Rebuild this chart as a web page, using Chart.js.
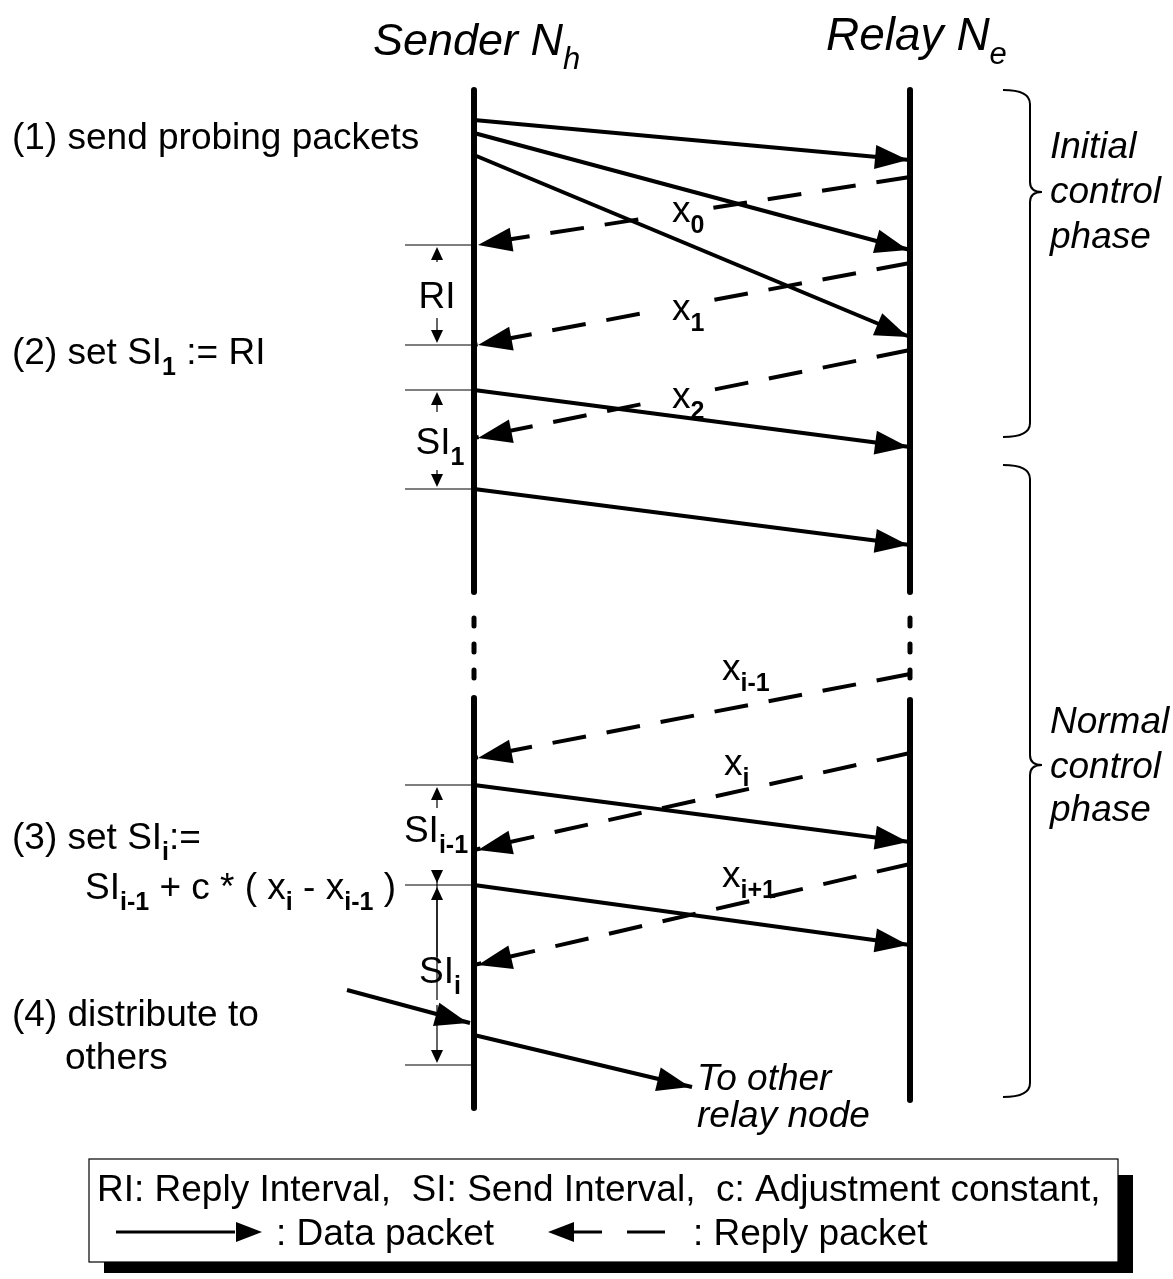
<!DOCTYPE html>
<html>
<head>
<meta charset="utf-8">
<script src="https://cdn.jsdelivr.net/npm/chart.js@4.4.1/dist/chart.umd.min.js"></script>
<style>
  html, body { margin: 0; padding: 0; background: #fff; }
  #wrap { width: 1173px; height: 1279px; position: relative; }
</style>
</head>
<body>
<div id="wrap"><canvas id="seq"></canvas></div>
<script>
// diagram space = 1173 x 1279, y grows downward
const senderX = 474;
const relayX = 910;

// lifeline pieces [x, yTop, yBottom]
const lifelines = [
    [senderX, 90, 592], [senderX, 698, 1108],
    [relayX, 90, 592], [relayX, 700, 1100]
];
const lifelineDots = [622, 648, 674];

// data packets (solid) [xFrom, yFrom, xTo, yTo]
const dataPackets = [
    [senderX, 120, relayX, 160],
    [senderX, 133, relayX, 250],
    [senderX, 155, relayX, 337],
    [senderX, 390, relayX, 447],
    [senderX, 489, relayX, 545],
    [senderX, 785, relayX, 842],
    [senderX, 885, relayX, 945],
    [347, 990, 470, 1023],
    [senderX, 1035, 692, 1087]
];

// reply packets (dashed) [xFrom, yFrom, xTo, yTo]
const replyPackets = [
    [relayX, 177, senderX, 245],
    [relayX, 263, senderX, 345],
    [relayX, 350, senderX, 438],
    [relayX, 674, senderX, 758],
    [relayX, 753, senderX, 850],
    [relayX, 864, senderX, 965]
];
// [text, sub, x, baseline, knockout]
const replyLabels = [
    ["x", "0", 672, 222, true],
    ["x", "1", 672, 320, true],
    ["x", "2", 672, 408, true],
    ["x", "i-1", 722, 680, false],
    ["x", "i", 724, 775, false],
    ["x", "i+1", 722, 887, false]
];

// dimension ticks (thin horizontal lines left of sender)
const dimLines = [245, 345, 390, 489, 785, 885, 1065];
// interval arrows [yTop, yBottom, labelMain, labelSub, labelBaseline, gapTop, gapBottom]
const intervals = [
    [247, 343, "RI", "", 308, 262, 318],
    [392, 487, "SI", "1", 454, 412, 470],
    [787, 883, "SI", "i-1", 842, 808, 1000],
    [887, 1063, "SI", "i", 983, 957, 1005]
];

// braces [yTop, yTip, yBottom]
const braces = [[90, 192, 437], [465, 765, 1097]];

function pt(a, b) { return { x: a, y: b }; }

// order: replies drawn first (higher order), then data packets, then lifelines
const datasets = [];
lifelines.forEach(l => datasets.push({
    data: [pt(l[0], l[1]), pt(l[0], l[2])], borderColor: "#000", borderWidth: 6,
    borderCapStyle: "round", showLine: true, pointRadius: 0, order: 0
}));
lifelineDots.forEach(y => {
    [senderX, relayX].forEach(x => datasets.push({
        data: [pt(x, y - 4), pt(x, y + 4)], borderColor: "#000", borderWidth: 5,
        borderCapStyle: "round", showLine: true, pointRadius: 0, order: 0
    }));
});
dataPackets.forEach(p => datasets.push({
    data: [pt(p[0], p[1]), pt(p[2], p[3])], borderColor: "#000", borderWidth: 4,
    showLine: true, pointRadius: 0, arrow: "solid", order: 1
}));
replyPackets.forEach((p, i) => datasets.push({
    data: [pt(p[0], p[1]), pt(p[2], p[3])], borderColor: "#000", borderWidth: 4,
    borderDash: [34, 21], showLine: true, pointRadius: 0, arrow: "dash", order: 2,
    lastReply: i === 0
}));
dimLines.forEach(y => datasets.push({
    data: [pt(405, y), pt(senderX, y)], borderColor: "#000", borderWidth: 1.2,
    showLine: true, pointRadius: 0, order: 0
}));

function arrowHead(ctx, x1, y1, x2, y2, len, half) {
    const a = Math.atan2(y2 - y1, x2 - x1);
    ctx.save();
    ctx.translate(x2, y2);
    ctx.rotate(a);
    ctx.beginPath();
    ctx.moveTo(0, 0);
    ctx.lineTo(-len, -half);
    ctx.lineTo(-len, half);
    ctx.closePath();
    ctx.fillStyle = "#000";
    ctx.fill();
    ctx.restore();
}

const FONT = "'Liberation Sans', Arial, sans-serif";

function measureRich(ctx, parts, size, italic) {
    const mainFont = (italic ? "italic " : "") + size + "px " + FONT;
    const subFont = (italic ? "italic " : "bold ") + Math.round(size * 0.68) + "px " + FONT;
    let w = 0;
    parts.forEach(p => { ctx.font = p[1] ? subFont : mainFont; w += ctx.measureText(p[0]).width; });
    return w;
}

// text with subscripts: parts = [[text, isSub], ...]
function richText(ctx, parts, x, y, size, italic, align) {
    const mainFont = (italic ? "italic " : "") + size + "px " + FONT;
    const subFont = (italic ? "italic " : "bold ") + Math.round(size * 0.68) + "px " + FONT;
    const w = measureRich(ctx, parts, size, italic);
    let cx = align === "center" ? x - w / 2 : x;
    ctx.textBaseline = "alphabetic";
    ctx.textAlign = "left";
    ctx.fillStyle = "#000";
    parts.forEach(p => {
        ctx.font = p[1] ? subFont : mainFont;
        ctx.fillText(p[0], cx, p[1] ? y + size * 0.3 : y);
        cx += ctx.measureText(p[0]).width;
    });
}

const diagramPlugin = {
    id: "diagram",
    afterDatasetDraw(chart, args) {
        // after the last dashed reply line is drawn, clear room for the x labels
        const ds = chart.data.datasets[args.index];
        if (!ds.lastReply) return;
        const ctx = chart.ctx;
        const X = v => chart.scales.x.getPixelForValue(v), Y = v => chart.scales.y.getPixelForValue(v);
        ctx.save();
        ctx.fillStyle = "#fff";
        replyLabels.forEach(l => {
            if (!l[4]) return;
            const w = measureRich(ctx, [[l[0], false], [l[1], true]], 37, false);
            ctx.fillRect(X(l[2]) - 14, Y(l[3]) - 20, w + 22, 32);
        });
        ctx.restore();
    },
    afterDatasetsDraw(chart) {
        const ctx = chart.ctx;
        const sx = chart.scales.x, sy = chart.scales.y;
        const X = v => sx.getPixelForValue(v), Y = v => sy.getPixelForValue(v);

        // reply labels
        replyLabels.forEach(l => richText(ctx, [[l[0], false], [l[1], true]], X(l[2]), Y(l[3]), 37, false, "left"));

        // arrowheads
        chart.data.datasets.forEach(ds => {
            if (!ds.arrow) return;
            const a = ds.data[0], b = ds.data[1];
            if (ds.arrow === "solid") arrowHead(ctx, X(a.x), Y(a.y), X(b.x) - 2, Y(b.y), 33, 12);
            else arrowHead(ctx, X(a.x), Y(a.y), X(b.x) + 4, Y(b.y), 34, 12);
        });

        // interval arrows
        ctx.save();
        ctx.strokeStyle = "#000";
        ctx.lineWidth = 1.2;
        intervals.forEach(iv => {
            const x = X(437);
            ctx.beginPath();
            ctx.moveTo(x, Y(iv[0] + 10)); ctx.lineTo(x, Y(iv[5]));
            ctx.moveTo(x, Y(iv[6])); ctx.lineTo(x, Y(iv[1] - 10));
            ctx.stroke();
            arrowHead(ctx, x, Y(iv[0] + 20), x, Y(iv[0]), 13, 6);
            arrowHead(ctx, x, Y(iv[1] - 20), x, Y(iv[1]), 13, 6);
            const parts = [[iv[2], false]];
            if (iv[3]) parts.push([iv[3], true]);
            richText(ctx, parts, X(iv[3] === "i-1" ? 436 : (iv[3] ? 440 : 437)), Y(iv[4]), 37, false, "center");
        });
        ctx.restore();

        // braces
        ctx.save();
        ctx.strokeStyle = "#000";
        ctx.lineWidth = 2;
        braces.forEach(b => {
            const xl = X(1003), xs = X(1030), xt = X(1042);
            ctx.beginPath();
            ctx.moveTo(xl, Y(b[0]));
            ctx.quadraticCurveTo(xs, Y(b[0]), xs, Y(b[0] + 14));
            ctx.lineTo(xs, Y(b[1] - 10));
            ctx.quadraticCurveTo(xs, Y(b[1]), xt, Y(b[1]));
            ctx.quadraticCurveTo(xs, Y(b[1]), xs, Y(b[1] + 10));
            ctx.lineTo(xs, Y(b[2] - 14));
            ctx.quadraticCurveTo(xs, Y(b[2]), xl, Y(b[2]));
            ctx.stroke();
        });
        ctx.restore();

        // titles
        richText(ctx, [["Sender N", false], ["h", true]], X(373), Y(55), 45, true);
        richText(ctx, [["Relay N", false], ["e", true]], X(826), Y(50), 46, true);

        // left step texts
        const s = 37;
        richText(ctx, [["(1) send probing packets", false]], X(12), Y(149), s);
        richText(ctx, [["(2) set SI", false], ["1", true], [" := RI", false]], X(12), Y(364), s);
        richText(ctx, [["(3) set SI", false], ["i", true], [":=", false]], X(12), Y(849), s);
        richText(ctx, [["SI", false], ["i-1", true], [" + c * ( x", false], ["i", true], [" - x", false], ["i-1", true], [" )", false]], X(85), Y(899), s);
        richText(ctx, [["(4) distribute to", false]], X(12), Y(1026), s);
        richText(ctx, [["others", false]], X(65), Y(1069), s);

        // phase texts
        [["Initial", 158], ["control", 203], ["phase", 248], ["Normal", 733], ["control", 778], ["phase", 821]]
            .forEach(t => richText(ctx, [[t[0], false]], X(1050), Y(t[1]), 37, true));
        richText(ctx, [["To other", false]], X(697), Y(1090), 37, true);
        richText(ctx, [["relay node", false]], X(697), Y(1127), 37, true);

        // legend box with shadow
        ctx.save();
        ctx.fillStyle = "#000";
        ctx.fillRect(X(104), Y(1175), X(1133) - X(104), Y(1273) - Y(1175));
        ctx.fillStyle = "#fff";
        ctx.fillRect(X(89), Y(1159), X(1118) - X(89), Y(1262) - Y(1159));
        ctx.strokeStyle = "#000";
        ctx.lineWidth = 1.2;
        ctx.strokeRect(X(89), Y(1159), X(1118) - X(89), Y(1262) - Y(1159));
        ctx.font = "37px " + FONT;
        ctx.fillStyle = "#000";
        ctx.textAlign = "left";
        ctx.textBaseline = "alphabetic";
        ctx.fillText("RI: Reply Interval,  SI: Send Interval,  c: Adjustment constant,", X(97), Y(1201), 1012);
        // legend samples
        ctx.lineWidth = 3;
        ctx.beginPath(); ctx.moveTo(X(116), Y(1232)); ctx.lineTo(X(235), Y(1232)); ctx.stroke();
        arrowHead(ctx, X(116), Y(1232), X(262), Y(1232), 26, 10);
        ctx.fillText(": Data packet", X(276), Y(1245));
        arrowHead(ctx, X(600), Y(1232), X(548), Y(1232), 26, 10);
        ctx.beginPath();
        ctx.moveTo(X(570), Y(1232)); ctx.lineTo(X(602), Y(1232));
        ctx.moveTo(X(627), Y(1232)); ctx.lineTo(X(665), Y(1232));
        ctx.stroke();
        ctx.fillText(": Reply packet", X(693), Y(1245));
        ctx.restore();
    }
};

new Chart(document.getElementById("seq"), {
    type: "scatter",
    data: { datasets: datasets },
    options: {
        responsive: true,
        maintainAspectRatio: false,
        animation: false,
        layout: { padding: 0 },
        plugins: { legend: { display: false }, tooltip: { enabled: false } },
        scales: {
            x: { type: "linear", min: 0, max: 1173, display: false },
            y: { type: "linear", min: 0, max: 1279, reverse: true, display: false }
        }
    },
    plugins: [diagramPlugin]
});
</script>
</body>
</html>
